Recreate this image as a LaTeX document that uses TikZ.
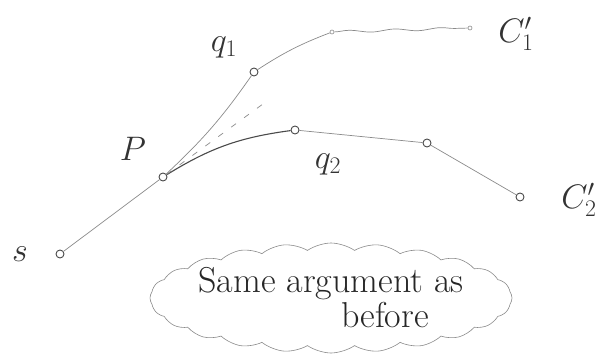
\RequirePackage{fix-cm}
\documentclass[tikz,border=0pt]{standalone}
\usetikzlibrary{positioning, shapes.symbols, decorations.pathmorphing}
\definecolor{colorpencil}{HTML}{4A4A4A}
\definecolor{colorfaint}{HTML}{8A8A8A}

\begin{document}
\begin{tikzpicture}[
    x=1pt, y=-1pt,
    % Small pencil circles for the path points
    vertex/.style={
        circle,
        draw=colorpencil,
        fill=white,
        line width=0.9pt,
        inner sep=0pt,
        minimum size=8pt
    },
    tickmark/.style={
        circle,
        draw=colorfaint,
        fill=white,
        line width=0.6pt,
        inner sep=0pt,
        minimum size=4pt
    },
    lbl/.style={
        text=black!80,
        font=\fontsize{34}{34}\selectfont
    },
    edge/.style={
        colorfaint,
        line width=0.7pt
    },
    mainedge/.style={
        colorpencil,
        line width=1.1pt
    },
    remark/.style={
        cloud,
        cloud puffs=24,
        cloud puff arc=70,
        aspect=3.6,
        draw=colorfaint,
        line width=0.6pt,
        inner xsep=-50pt,
        inner ysep=-26pt,
        align=center,
        text=black!85,
        font=\fontsize{36}{35}\selectfont
    }
]
\useasboundingbox (0,0) rectangle (604,361);

% ==============================
% Path points
% ==============================
\node[vertex] (s)  at (60,254)  {};
\node[vertex] (p)  at (163,177) {};
\node[vertex] (q1) at (254,72)  {};
\node[vertex] (q2) at (295,130) {};
\node[vertex] (r1) at (427,143) {};
\node[vertex] (r2) at (520,197) {};

\node[tickmark] (t1) at (332,32) {};
\node[tickmark] (t2) at (470,28) {};

\coordinate (mid) at (267,101);

% ==============================
% Labels
% ==============================
\node[lbl] (ls)  at (20,254)  {$s$};
\node[lbl] (lp)  at (133,149) {$P$};
\node[lbl] (lq1) at (224,47)  {$q_1$};
\node[lbl] (lq2) at (328,164) {$q_2$};
\node[lbl] (lc1) at (516,34)  {$C_1'$};
\node[lbl] (lc2) at (579,200) {$C_2'$};

% ==============================
% Cloud remark
% ==============================
\node[remark, minimum width=362pt, minimum height=110pt] (note) at (331,298) {
    Same argument as \\
    \hspace*{3em}before
};

% ==============================
% Connectors
% ==============================
\draw[edge] (s) -- (p);
\draw[edge] (p) to[bend right=6] (q1);
\draw[mainedge] (p) to[bend left=12] (q2);
\draw[edge, dashed, dash pattern=on 6pt off 10pt] (p) -- (mid);

\draw[edge] (q1) to[bend left=6] (t1);
\draw[edge, decorate, decoration={snake, amplitude=1.2pt, segment length=46pt}] (t1) -- (t2);

\draw[edge] (q2) -- (r1);
\draw[edge] (r1) -- (r2);

\end{tikzpicture}
\end{document}
